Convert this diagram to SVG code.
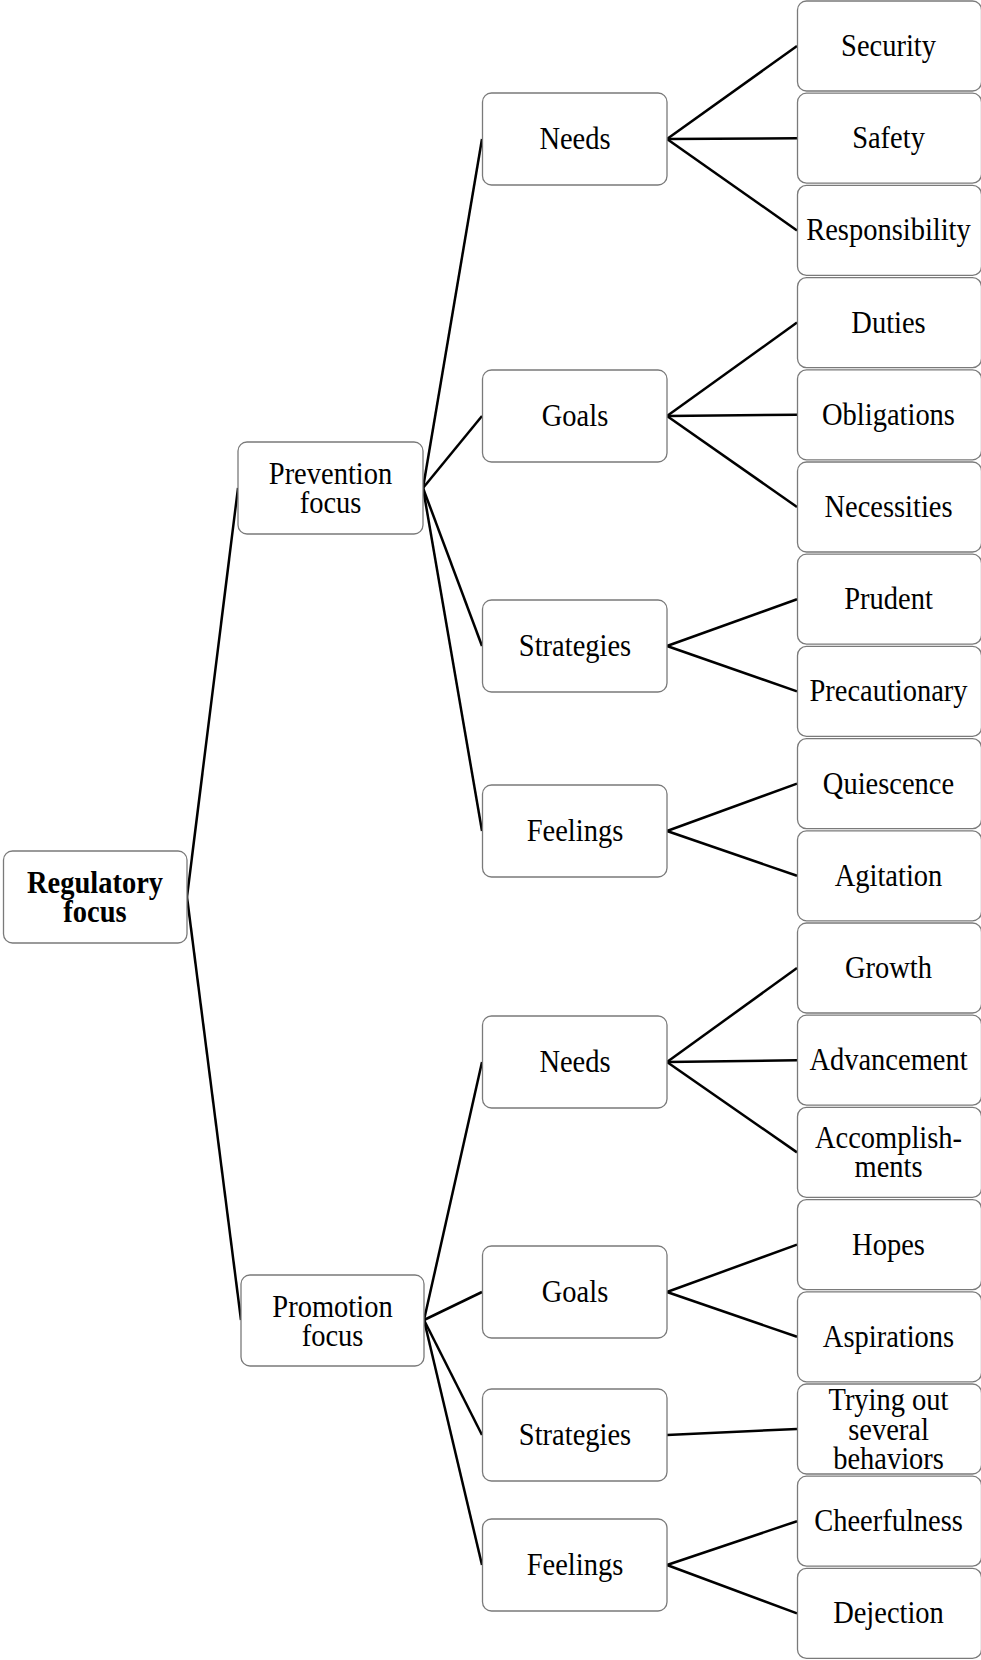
<svg xmlns="http://www.w3.org/2000/svg" width="981" height="1660" viewBox="0 0 981 1660">
<style>
.b{fill:#fff;stroke:#7a7a7a;stroke-width:1.3}
.t{font-family:"Liberation Serif","Times New Roman",serif;font-size:28.5px;fill:#000;text-anchor:middle}
.bold{font-weight:bold}
.c line{stroke:#000;stroke-width:2.5}
</style>
<rect width="981" height="1660" fill="#fff"/>
<g class="c" id="connectors">
<line x1="187" y1="897" x2="238" y2="488"/>
<line x1="187" y1="897" x2="241" y2="1320"/>
<line x1="423" y1="488" x2="482" y2="139"/>
<line x1="423" y1="488" x2="482" y2="416"/>
<line x1="423" y1="488" x2="482" y2="646"/>
<line x1="423" y1="488" x2="482" y2="831"/>
<line x1="424" y1="1320" x2="482" y2="1062"/>
<line x1="424" y1="1320" x2="482" y2="1292"/>
<line x1="424" y1="1320" x2="482" y2="1435"/>
<line x1="424" y1="1320" x2="482" y2="1565"/>
<line x1="667" y1="139" x2="797" y2="46"/>
<line x1="667" y1="139" x2="797" y2="138.2"/>
<line x1="667" y1="139" x2="797" y2="230.4"/>
<line x1="667" y1="416" x2="797" y2="322.6"/>
<line x1="667" y1="416" x2="797" y2="414.8"/>
<line x1="667" y1="416" x2="797" y2="507"/>
<line x1="667" y1="646" x2="797" y2="599.2"/>
<line x1="667" y1="646" x2="797" y2="691.4"/>
<line x1="667" y1="831" x2="797" y2="783.6"/>
<line x1="667" y1="831" x2="797" y2="875.8"/>
<line x1="667" y1="1062" x2="797" y2="968"/>
<line x1="667" y1="1062" x2="797" y2="1060.2"/>
<line x1="667" y1="1062" x2="797" y2="1152.4"/>
<line x1="667" y1="1292" x2="797" y2="1244.6"/>
<line x1="667" y1="1292" x2="797" y2="1336.8"/>
<line x1="667" y1="1435" x2="797" y2="1429"/>
<line x1="667" y1="1565" x2="797" y2="1521.2"/>
<line x1="667" y1="1565" x2="797" y2="1613.4"/>
</g>
<g id="root"><rect class="b" x="3.5" y="851" width="183.5" height="92" rx="9"/>
<text class="t bold" transform="translate(95,892.5) scale(1,1.1)">Regulatory</text>
<text class="t bold" transform="translate(95,921.5) scale(1,1.1)">focus</text></g>
<g id="prevention"><rect class="b" x="238" y="442" width="185" height="92" rx="9"/>
<text class="t" transform="translate(330.5,483.5) scale(1,1.1)">Prevention</text>
<text class="t" transform="translate(330.5,512.5) scale(1,1.1)">focus</text></g>
<g id="promotion"><rect class="b" x="241" y="1275" width="183" height="91" rx="9"/>
<text class="t" transform="translate(332.5,1316.5) scale(1,1.1)">Promotion</text>
<text class="t" transform="translate(332.5,1345.5) scale(1,1.1)">focus</text></g>
<g id="p-needs"><rect class="b" x="482.5" y="93" width="184.5" height="92" rx="9"/><text class="t" transform="translate(575,149) scale(1,1.1)">Needs</text></g>
<g id="p-goals"><rect class="b" x="482.5" y="370" width="184.5" height="92" rx="9"/><text class="t" transform="translate(575,426) scale(1,1.1)">Goals</text></g>
<g id="p-strategies"><rect class="b" x="482.5" y="600" width="184.5" height="92" rx="9"/><text class="t" transform="translate(575,656) scale(1,1.1)">Strategies</text></g>
<g id="p-feelings"><rect class="b" x="482.5" y="785" width="184.5" height="92" rx="9"/><text class="t" transform="translate(575,841) scale(1,1.1)">Feelings</text></g>
<g id="m-needs"><rect class="b" x="482.5" y="1016" width="184.5" height="92" rx="9"/><text class="t" transform="translate(575,1072) scale(1,1.1)">Needs</text></g>
<g id="m-goals"><rect class="b" x="482.5" y="1246" width="184.5" height="92" rx="9"/><text class="t" transform="translate(575,1302) scale(1,1.1)">Goals</text></g>
<g id="m-strategies"><rect class="b" x="482.5" y="1389" width="184.5" height="92" rx="9"/><text class="t" transform="translate(575,1445) scale(1,1.1)">Strategies</text></g>
<g id="m-feelings"><rect class="b" x="482.5" y="1519" width="184.5" height="92" rx="9"/><text class="t" transform="translate(575,1575) scale(1,1.1)">Feelings</text></g>
<g id="l-security"><rect class="b" x="797.5" y="1" width="184" height="90" rx="9"/><text class="t" transform="translate(888.5,56) scale(1,1.1)">Security</text></g>
<g id="l-safety"><rect class="b" x="797.5" y="93.2" width="184" height="90" rx="9"/><text class="t" transform="translate(888.5,148.2) scale(1,1.1)">Safety</text></g>
<g id="l-responsibility"><rect class="b" x="797.5" y="185.4" width="184" height="90" rx="9"/><text class="t" transform="translate(888.5,240.4) scale(1,1.1)">Responsibility</text></g>
<g id="l-duties"><rect class="b" x="797.5" y="277.6" width="184" height="90" rx="9"/><text class="t" transform="translate(888.5,332.6) scale(1,1.1)">Duties</text></g>
<g id="l-obligations"><rect class="b" x="797.5" y="369.8" width="184" height="90" rx="9"/><text class="t" transform="translate(888.5,424.8) scale(1,1.1)">Obligations</text></g>
<g id="l-necessities"><rect class="b" x="797.5" y="462" width="184" height="90" rx="9"/><text class="t" transform="translate(888.5,517) scale(1,1.1)">Necessities</text></g>
<g id="l-prudent"><rect class="b" x="797.5" y="554.2" width="184" height="90" rx="9"/><text class="t" transform="translate(888.5,609.2) scale(1,1.1)">Prudent</text></g>
<g id="l-precautionary"><rect class="b" x="797.5" y="646.4" width="184" height="90" rx="9"/><text class="t" transform="translate(888.5,701.4) scale(1,1.1)">Precautionary</text></g>
<g id="l-quiescence"><rect class="b" x="797.5" y="738.6" width="184" height="90" rx="9"/><text class="t" transform="translate(888.5,793.6) scale(1,1.1)">Quiescence</text></g>
<g id="l-agitation"><rect class="b" x="797.5" y="830.8" width="184" height="90" rx="9"/><text class="t" transform="translate(888.5,885.8) scale(1,1.1)">Agitation</text></g>
<g id="l-growth"><rect class="b" x="797.5" y="923" width="184" height="90" rx="9"/><text class="t" transform="translate(888.5,978) scale(1,1.1)">Growth</text></g>
<g id="l-advancement"><rect class="b" x="797.5" y="1015.2" width="184" height="90" rx="9"/><text class="t" transform="translate(888.5,1070.2) scale(1,1.1)">Advancement</text></g>
<g id="l-accomplishments"><rect class="b" x="797.5" y="1107.4" width="184" height="90" rx="9"/><text class="t" transform="translate(888.5,1147.9) scale(1,1.1)">Accomplish-</text><text class="t" transform="translate(888.5,1176.9) scale(1,1.1)">ments</text></g>
<g id="l-hopes"><rect class="b" x="797.5" y="1199.6" width="184" height="90" rx="9"/><text class="t" transform="translate(888.5,1254.6) scale(1,1.1)">Hopes</text></g>
<g id="l-aspirations"><rect class="b" x="797.5" y="1291.8" width="184" height="90" rx="9"/><text class="t" transform="translate(888.5,1346.8) scale(1,1.1)">Aspirations</text></g>
<g id="l-trying"><rect class="b" x="797.5" y="1384" width="184" height="90" rx="9"/><text class="t" transform="translate(888.5,1410) scale(1,1.1)">Trying out</text><text class="t" transform="translate(888.5,1439.5) scale(1,1.1)">several</text><text class="t" transform="translate(888.5,1468.5) scale(1,1.1)">behaviors</text></g>
<g id="l-cheerfulness"><rect class="b" x="797.5" y="1476.2" width="184" height="90" rx="9"/><text class="t" transform="translate(888.5,1531.2) scale(1,1.1)">Cheerfulness</text></g>
<g id="l-dejection"><rect class="b" x="797.5" y="1568.4" width="184" height="90" rx="9"/><text class="t" transform="translate(888.5,1623.4) scale(1,1.1)">Dejection</text></g>
</svg>
